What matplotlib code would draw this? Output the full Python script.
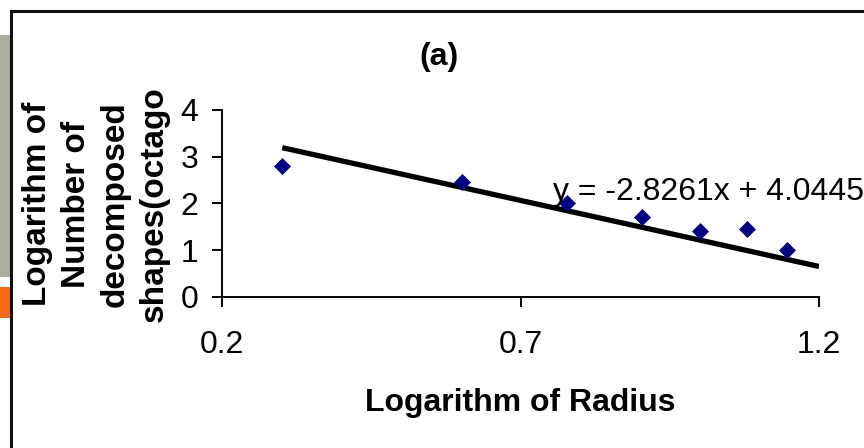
import matplotlib
matplotlib.use("Agg")
import matplotlib.pyplot as plt
from matplotlib.patches import Rectangle
from matplotlib.lines import Line2D
import numpy as np

plt.rcParams['font.family'] = ['Liberation Sans', 'DejaVu Sans']

# log of radius vs log of number of decomposed shapes
log_radius = [0.301, 0.602, 0.778, 0.903, 1.0, 1.079, 1.146]
log_count = [2.80, 2.47, 2.02, 1.71, 1.41, 1.46, 1.00]

# linear trendline (as printed on the chart)
slope = -2.8261
intercept = 4.0445
trend_x = [0.301, 1.2]

x_ticks = [0.2, 0.7, 1.2]
y_ticks = [0, 1, 2, 3, 4]

W, H = 864, 448
fig = plt.figure(figsize=(W / 100, H / 100), dpi=100)

# slide decorations on the left edge
fig.add_artist(Rectangle((0, 1 - 277 / H), 10 / W, 242 / H, transform=fig.transFigure,
                         facecolor='#A8AD9E', edgecolor='none'))
fig.add_artist(Rectangle((0, 1 - 318 / H), 10 / W, 31 / H, transform=fig.transFigure,
                         facecolor='#F26B12', edgecolor='none'))
# chart border (top and left visible)
fig.add_artist(Line2D([11 / W, 11 / W], [0, 1 - 11 / H], transform=fig.transFigure,
                      color='#111111', lw=2.2))
fig.add_artist(Line2D([11 / W, 1], [1 - 11 / H, 1 - 11 / H], transform=fig.transFigure,
                      color='#111111', lw=2.2))

ax = fig.add_axes([222 / W, 151 / H, (819 - 222) / W, (297 - 110) / H])

ax.scatter(log_radius, log_count, marker='D', s=75, color='#000080', zorder=3, linewidths=0)
tx = np.array(trend_x)
ax.plot(tx, slope * tx + intercept, color='black', lw=3.8, zorder=2, solid_capstyle='butt')

ax.text(0.755, 2.07, "y = -2.8261x + 4.0445", fontsize=23, ha='left', va='baseline', zorder=4)

ax.set_xlim(0.2, 1.2)
ax.set_ylim(0, 4)
ax.set_xticks(x_ticks)
ax.set_xticklabels([str(v) for v in x_ticks])
ax.set_yticks(y_ticks)

for s in ['top', 'right']:
    ax.spines[s].set_visible(False)
for s in ['left', 'bottom']:
    ax.spines[s].set_linewidth(1.4)
ax.tick_params(axis='both', direction='out', length=7, width=1.4, labelsize=23)
ax.tick_params(axis='x', pad=17)
ax.tick_params(axis='y', pad=10)

ax.set_xlabel("Logarithm of Radius", fontsize=23, fontweight='bold', labelpad=20)

fig.text(439 / W, 1 - 57 / H, "(a)", ha='center', va='center', fontsize=23, fontweight='bold')

fig.text(96 / W, 1 - 204 / H, "Logarithm of\nNumber of\ndecomposed\nshapes(octago",
         rotation=90, ha='center', va='center', fontsize=24, fontweight='bold',
         linespacing=1.33)

fig.savefig("out.png", dpi=100)
